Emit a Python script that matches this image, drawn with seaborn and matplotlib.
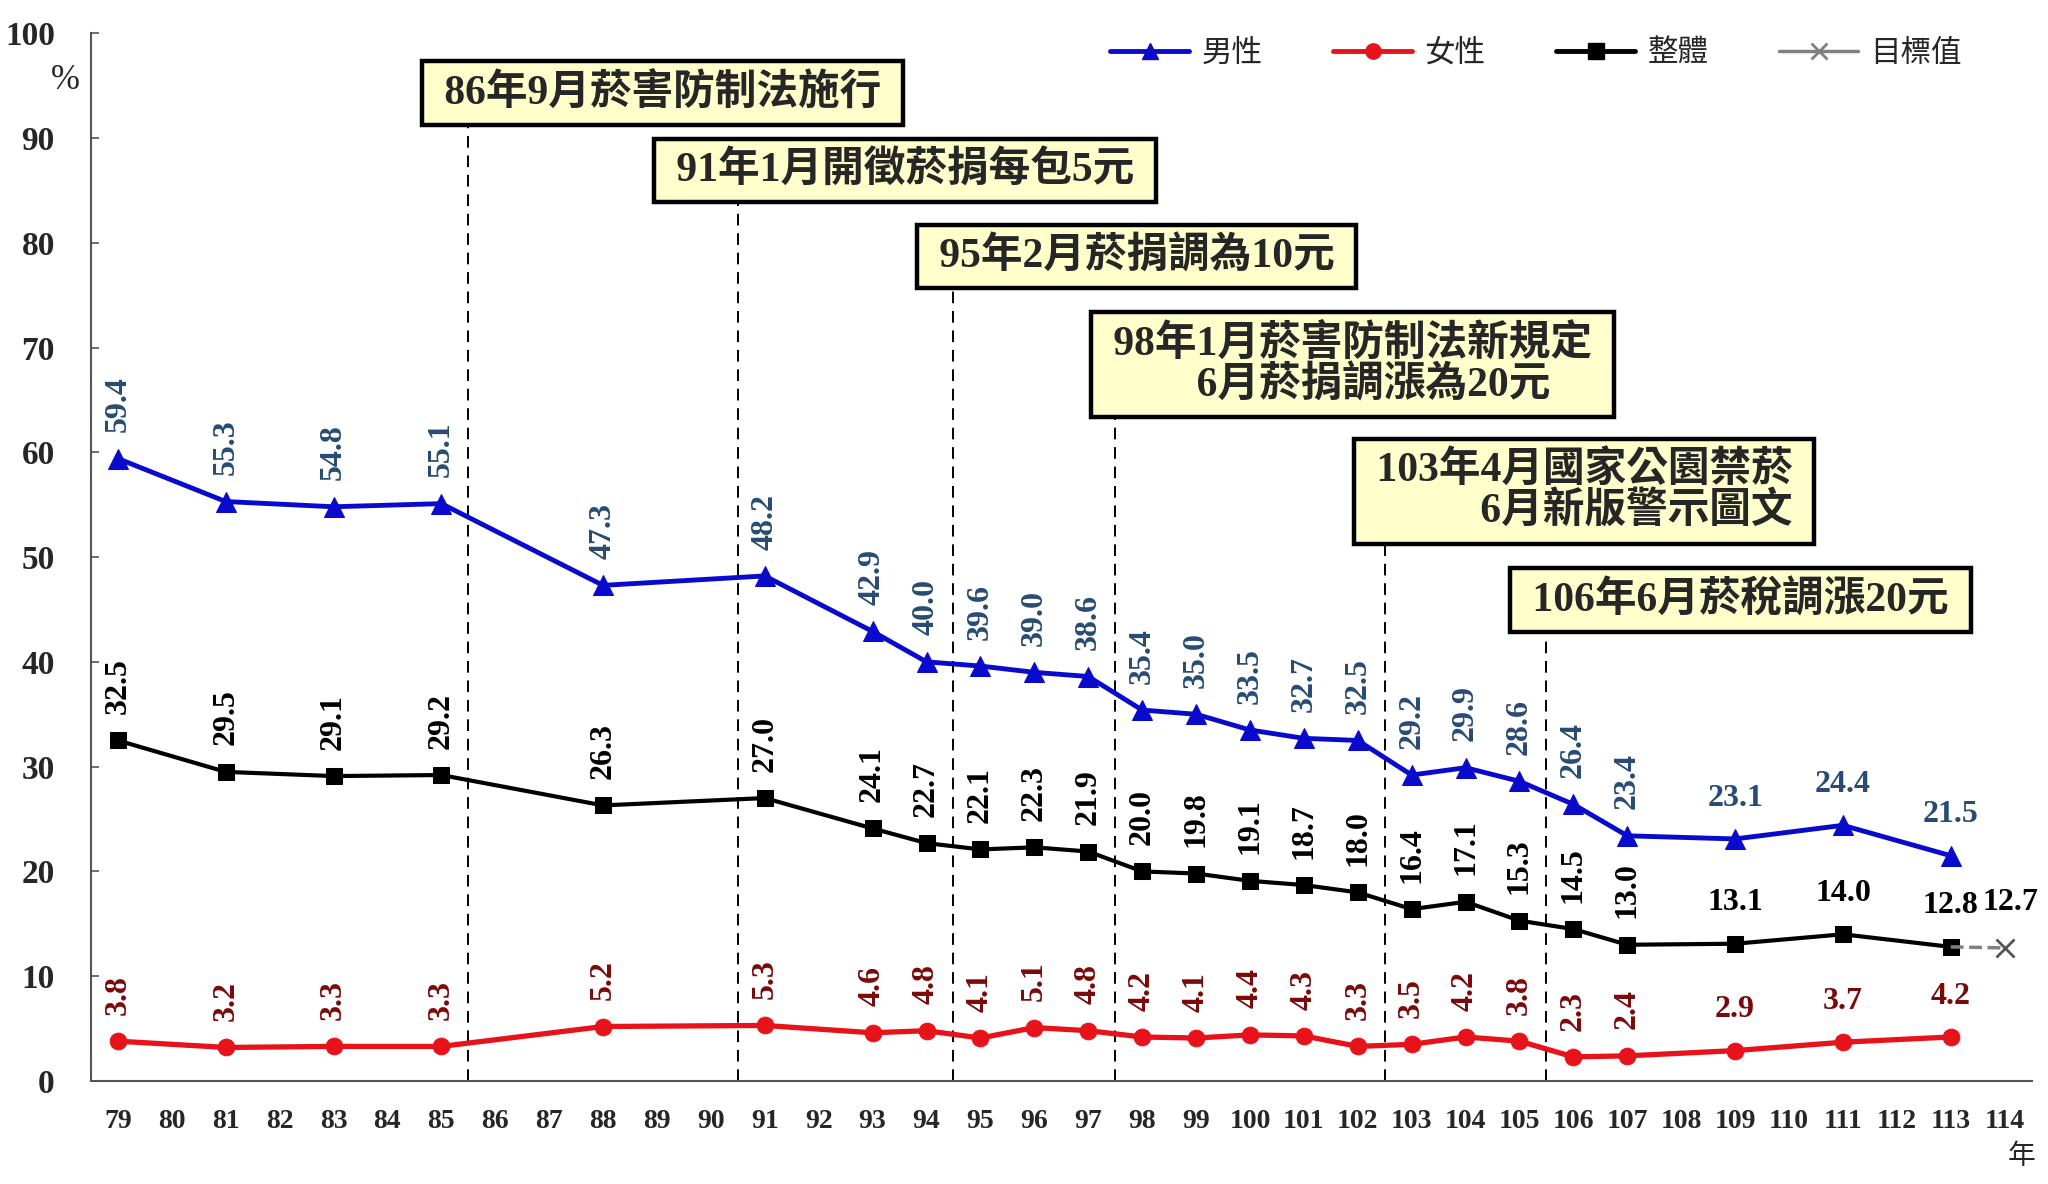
import numpy as np
import pandas as pd
import matplotlib
matplotlib.use("Agg")
import matplotlib.pyplot as plt
from matplotlib.lines import Line2D
import seaborn as sns

# 年度 (民國) 與吸菸率 (%)
years = [79, 81, 83, 85, 88, 91, 93, 94, 95, 96, 97, 98, 99, 100, 101, 102,
         103, 104, 105, 106, 107, 109, 111, 113]
male = [59.4, 55.3, 54.8, 55.1, 47.3, 48.2, 42.9, 40.0, 39.6, 39.0, 38.6, 35.4,
        35.0, 33.5, 32.7, 32.5, 29.2, 29.9, 28.6, 26.4, 23.4, 23.1, 24.4, 21.5]
female = [3.8, 3.2, 3.3, 3.3, 5.2, 5.3, 4.6, 4.8, 4.1, 5.1, 4.8, 4.2,
          4.1, 4.4, 4.3, 3.3, 3.5, 4.2, 3.8, 2.3, 2.4, 2.9, 3.7, 4.2]
overall = [32.5, 29.5, 29.1, 29.2, 26.3, 27.0, 24.1, 22.7, 22.1, 22.3, 21.9, 20.0,
           19.8, 19.1, 18.7, 18.0, 16.4, 17.1, 15.3, 14.5, 13.0, 13.1, 14.0, 12.8]
target_years = [113, 114]
target_vals = [12.8, 12.7]

tick_years = list(range(79, 115))
flat_label_years = [109, 111, 113, 114]

# 政策事件: 文字, 分隔線位置, 文字框中心, 線頂
events = [
    ("86年9月菸害防制法施行", 85.5, 89.1, 94.3, 91.0, "left"),
    ("91年1月開徵菸捐每包5元", 90.5, 93.6, 86.9, 83.7, "left"),
    ("95年2月菸捐調為10元", 94.5, 97.9, 78.7, 75.8, "left"),
    ("98年1月菸害防制法新規定\n　　6月菸捐調漲為20元", 97.5, 101.9, 68.4, 63.4, "left"),
    ("103年4月國家公園禁菸\n6月新版警示圖文", 102.5, 106.2, 56.3, 51.3, "right"),
    ("106年6月菸稅調漲20元", 105.5, 109.1, 45.9, 43.0, "left"),
]

sns.set_style("white")
plt.rcParams["font.family"] = ["Liberation Serif", "Noto Sans CJK TC", "DejaVu Sans"]

fig = plt.figure(figsize=(20.48, 11.84), dpi=100)
ax = fig.add_axes([0.0444, 0.087, 0.9476, 0.885])

blue = "#0A0ACD"
red = "#E8121A"
black = "#000000"

sns.lineplot(x=years, y=male, color=blue, marker="^", markersize=14,
             markeredgecolor=blue, linewidth=3.5, ax=ax)
sns.lineplot(x=years, y=female, color=red, marker="o", markersize=12,
             markeredgecolor=red, linewidth=3.8, ax=ax)
sns.lineplot(x=years, y=overall, color=black, marker="s", markersize=11,
             markeredgecolor=black, linewidth=3.0, ax=ax)
sns.lineplot(x=target_years, y=target_vals, color="#808080", linestyle="--",
             marker="x", markevery=[1], markersize=13, markeredgewidth=2,
             markeredgecolor="#555555", linewidth=2.5, ax=ax)

# 資料標籤
label_sets = [(male, "#284B73"), (female, "#7A0A0A"), (overall, black)]
for vals, col in label_sets:
    for yr, v in zip(years, vals):
        rot = 0 if yr in flat_label_years else 90
        ax.annotate(f"{v:.1f}", (yr, v), xytext=(0, 19), textcoords="offset points",
                    ha="center", va="bottom", rotation=rot, fontsize=23,
                    fontweight="bold", color=col, family="Liberation Serif")
ax.annotate(f"{target_vals[1]:.1f}", (target_years[1], target_vals[1]), xytext=(4, 22),
            textcoords="offset points", ha="center", va="bottom", fontsize=23,
            fontweight="bold", color=black, family="Liberation Serif")

# 政策事件框與虛線
for text, xline, xc, yc, ytop, align in events:
    ax.vlines(xline, 0, ytop, colors="black", linestyles=(0, (6, 4)), linewidth=1.4, zorder=1)
    padded = "\n".join(f" {line} " for line in text.split("\n"))
    ax.text(xc, yc, padded, ha="center", va="center", multialignment=align,
            fontsize=30, fontweight="bold", linespacing=1.05,
            family=["Liberation Serif", "Noto Sans CJK TC"],
            bbox=dict(boxstyle="square,pad=0.28", facecolor="#FFFFCC",
                      edgecolor="black", linewidth=3.2), zorder=5)

ax.set_xlim(78.5, 114.5)
ax.set_ylim(0, 100)
ax.set_xticks(tick_years)
ax.set_xticklabels([str(y) for y in tick_years], fontsize=20, fontweight="bold",
                   family="Liberation Serif")
ax.set_xticks(np.arange(79.5, 115, 1), minor=True)
ax.set_yticks(range(0, 101, 10))
ax.set_yticklabels([str(v) for v in range(0, 101, 10)], fontsize=24, fontweight="bold",
                   family="Liberation Serif")
ax.tick_params(axis="x", which="major", length=0, pad=20)
ax.tick_params(axis="x", which="minor", direction="in", length=6, width=1.2, color="#555555")
ax.tick_params(axis="y", direction="in", length=6, width=1.2, color="#555555", pad=26, left=True)
for side in ["top", "right"]:
    ax.spines[side].set_visible(False)
for side in ["left", "bottom"]:
    ax.spines[side].set_color("#555555")
    ax.spines[side].set_linewidth(1.5)
ax.set_xlabel("")
ax.set_ylabel("")

fig.text(0.032, 0.932, "%", fontsize=25, ha="center", va="center", family="Liberation Serif")
fig.text(0.987, 0.024, "年", fontsize=20, ha="center", va="center", family="Noto Sans CJK TC")

handles = [
    Line2D([], [], color=blue, marker="^", markersize=11, linewidth=3.5),
    Line2D([], [], color=red, marker="o", markersize=11, linewidth=3.5),
    Line2D([], [], color=black, marker="s", markersize=11, linewidth=3.5),
    Line2D([], [], color="#808080", marker="x", markersize=11, markeredgewidth=2, linewidth=2.5),
]
fig.legend(handles, ["男性", "女性", "整體", "目標值"], loc="center",
           bbox_to_anchor=(0.75, 0.955), ncol=4, frameon=False, handlelength=2.6,
           handletextpad=0.4, columnspacing=2.3,
           prop={"family": "Noto Sans CJK TC", "size": 22})

fig.savefig("out.png", dpi=100, facecolor="white")
